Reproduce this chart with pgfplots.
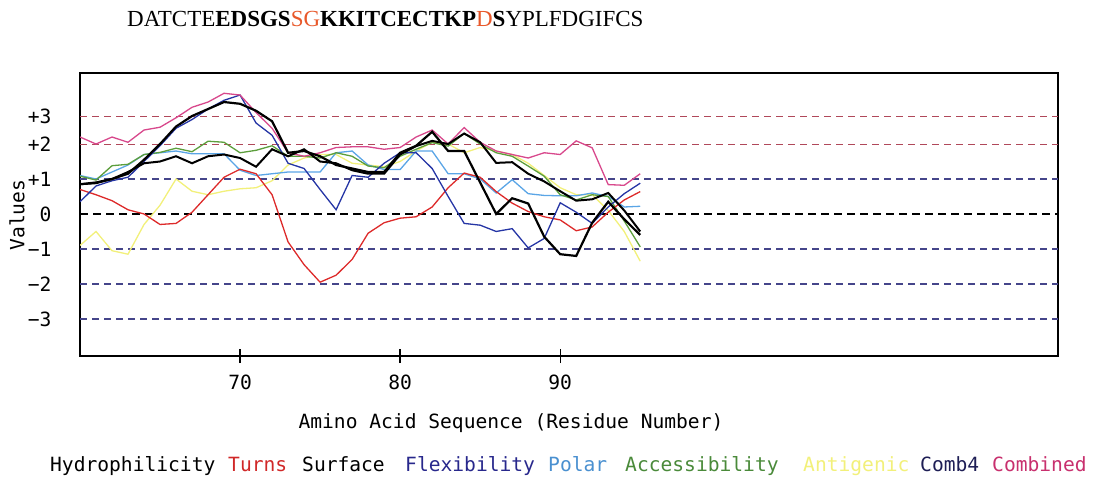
\documentclass[border=0pt]{standalone}
\usepackage{fontspec}
\usepackage{xcolor}
\usepackage{pgfplots}
\usepackage{pgfplotstable}
\pgfplotsset{compat=1.18}
\setmainfont{Liberation Serif}
\newfontfamily\monofont{DejaVu Sans Mono}

\definecolor{turns}{HTML}{DD2A2A}
\definecolor{flex}{HTML}{2535A5}
\definecolor{polar}{HTML}{5AA5E6}
\definecolor{access}{HTML}{5C9E3C}
\definecolor{antig}{HTML}{F2F07A}
\definecolor{comb4}{HTML}{1E1E55}
\definecolor{combined}{HTML}{D8488C}
\definecolor{gridred}{HTML}{B0485A}
\definecolor{gridblue}{HTML}{45458A}
\definecolor{seqred}{HTML}{E8582A}
\definecolor{legturns}{HTML}{D02828}
\definecolor{legflex}{HTML}{28288C}
\definecolor{legpolar}{HTML}{4A90D0}
\definecolor{legaccess}{HTML}{4A8A3A}
\definecolor{legcombined}{HTML}{C8306E}

% residue-wise profile scores
\pgfplotstableread{
r  hydro turns surface flex  polar access antig combined
60  0.85  0.70  0.85  0.35  1.10  1.08  -0.90  2.20
61  0.88  0.55  0.90  0.80  1.00  0.97  -0.50  2.00
62  1.00  0.38  1.00  0.95  1.20  1.38  -1.05  2.20
63  1.20  0.12  1.15  1.05  1.40  1.42  -1.15  2.05
64  1.45  0.00  1.55  1.50  1.70  1.70  -0.30  2.40
65  1.50 -0.30  2.00  1.95  1.75  1.76   0.25  2.48
66  1.65 -0.27  2.50  2.45  1.80  1.88   1.00  2.75
67  1.45  0.05  2.80  2.70  1.72  1.78   0.65  3.05
68  1.65  0.55  3.00  3.00  1.72  2.08   0.55  3.20
69  1.70  1.05  3.20  3.25  1.72  2.05   0.65  3.45
70  1.60  1.28  3.15  3.40  1.25  1.75   0.72  3.40
71  1.35  1.15  2.95  2.60  1.10  1.82   0.75  2.90
72  1.85  0.55  2.65  2.25  1.15  1.95   0.95  2.45
73  1.65 -0.80  1.75  1.45  1.20  1.65   1.40  1.75
74  1.85 -1.45  1.80  1.30  1.20  1.65   1.60  1.65
75  1.50 -1.95  1.65  0.70  1.20  1.60   1.70  1.75
76  1.45 -1.75  1.40  0.12  1.75  1.75   1.70  1.90
77  1.25 -1.30  1.30  1.10  1.80  1.65   1.45  1.92
78  1.15 -0.55  1.20  1.05  1.40  1.37   1.40  1.92
79  1.15 -0.25  1.20  1.45  1.27  1.32   1.35  1.85
80  1.70 -0.12  1.75  1.75  1.27  1.65   1.50  1.90
81  1.94 -0.08  1.95  1.75  1.80  1.85   1.80  2.20
82  2.09  0.20  2.35  1.30  1.80  2.04   2.05  2.40
83  2.00  0.75  1.80  0.50  1.15  1.94   2.00  2.00
84  2.30  1.17  1.80 -0.27  1.15  2.30   1.75  2.47
85  2.05  1.05  0.90 -0.32  1.00  2.00   1.90  2.05
86  1.46  0.64  0.00 -0.50  0.60  1.75   1.80  1.80
87  1.48  0.31  0.45 -0.42  0.98  1.65   1.70  1.70
88  1.15  0.07  0.30 -0.97  0.58  1.37   1.45  1.60
89  0.93 -0.08 -0.65 -0.70  0.53  1.08   1.10  1.75
90  0.65 -0.17 -1.15  0.32  0.52  0.55   0.75  1.70
91  0.38 -0.48 -1.20  0.05  0.52  0.40   0.55  2.09
92  0.42 -0.37 -0.25 -0.27  0.60  0.55   0.55  1.89
93  0.60  0.05  0.35  0.20  0.50  0.50   0.10  0.84
94  0.10  0.40 -0.15  0.58  0.20 -0.20  -0.50  0.82
95 -0.50  0.64 -0.60  0.88  0.22 -0.94  -1.35  1.15
}\profile

\begin{document}
\begin{tikzpicture}[x=1pt,y=1pt]
\useasboundingbox (0pt,0pt) rectangle (1105pt,485pt);

% peptide sequence
\node[anchor=base west, inner sep=0pt, font=\fontsize{23}{26}\selectfont]
  at (127pt,458pt) {DATCTE\textbf{EDSGS}\textcolor{seqred}{SG}\textbf{KKITCECTKP}\textcolor{seqred}{D}\textbf{S}YPLFDGIFCS};

\begin{axis}[
  at={(80pt,129pt)}, anchor=south west,
  scale only axis, width=978pt, height=283pt,
  xmin=60, xmax=121.1, ymin=-4.06, ymax=4.03,
  axis line style={line width=1.6pt},
  clip=true,
  xtick={70,80,90}, xticklabels={70,80,90},
  xtick pos=bottom,
  ytick={-3,-2,-1,0,1,1.98,2.78}, yticklabels={−3,−2,−1,0,+1,+2,+3},
  tick align=center,
  major tick length=14pt,
  x tick style={line width=1.4pt, black},
  y tick style={draw=none},
  ticklabel style={font=\monofont\fontsize{19.6}{22}\selectfont},
  xticklabel style={yshift=-8pt},
  yticklabel style={xshift=-18pt},
]
% reference levels
\addplot[gridred, line width=1.3pt, dash pattern=on 7pt off 5pt] coordinates {(60,2.78) (121.1,2.78)};
\addplot[gridred, line width=1.3pt, dash pattern=on 7pt off 5pt] coordinates {(60,1.98) (121.1,1.98)};
\addplot[gridblue, line width=1.5pt, dash pattern=on 7pt off 5pt] coordinates {(60,1) (121.1,1)};
\addplot[black, line width=2pt, dash pattern=on 8pt off 5pt] coordinates {(60,0) (121.1,0)};
\addplot[gridblue, line width=1.5pt, dash pattern=on 7pt off 5pt] coordinates {(60,-1) (121.1,-1)};
\addplot[gridblue, line width=1.5pt, dash pattern=on 7pt off 5pt] coordinates {(60,-2) (121.1,-2)};
\addplot[gridblue, line width=1.5pt, dash pattern=on 7pt off 5pt] coordinates {(60,-3) (121.1,-3)};

% profiles
\addplot[antig, line width=1.3pt] table[x=r, y=antig] {\profile};
\addplot[polar, line width=1.3pt] table[x=r, y=polar] {\profile};
\addplot[access, line width=1.3pt] table[x=r, y=access] {\profile};
\addplot[turns, line width=1.3pt] table[x=r, y=turns] {\profile};
\addplot[flex, line width=1.3pt] table[x=r, y=flex] {\profile};
\addplot[combined, line width=1.3pt] table[x=r, y=combined] {\profile};
\addplot[black, line width=2pt] table[x=r, y=hydro] {\profile};
\addplot[black, line width=2.2pt] table[x=r, y=surface] {\profile};
\end{axis}

% axis titles
\node[rotate=90, font=\monofont\fontsize{19.6}{22}\selectfont] at (17pt,270pt) {Values};
\node[font=\monofont\fontsize{19.6}{22}\selectfont] at (511pt,62pt) {Amino Acid Sequence (Residue Number)};

% legend
\begin{scope}[every node/.style={anchor=base west, inner sep=0pt, font=\monofont\fontsize{19.6}{22}\selectfont}]
\node at (50pt,14pt) {Hydrophilicity};
\node[text=legturns] at (228pt,14pt) {Turns};
\node at (302pt,14pt) {Surface};
\node[text=legflex] at (405pt,14pt) {Flexibility};
\node[text=legpolar] at (548pt,14pt) {Polar};
\node[text=legaccess] at (625pt,14pt) {Accessibility};
\node[text=antig] at (803pt,14pt) {Antigenic};
\node[text=comb4] at (920pt,14pt) {Comb4};
\node[text=legcombined] at (992pt,14pt) {Combined};
\end{scope}
\end{tikzpicture}
\end{document}
